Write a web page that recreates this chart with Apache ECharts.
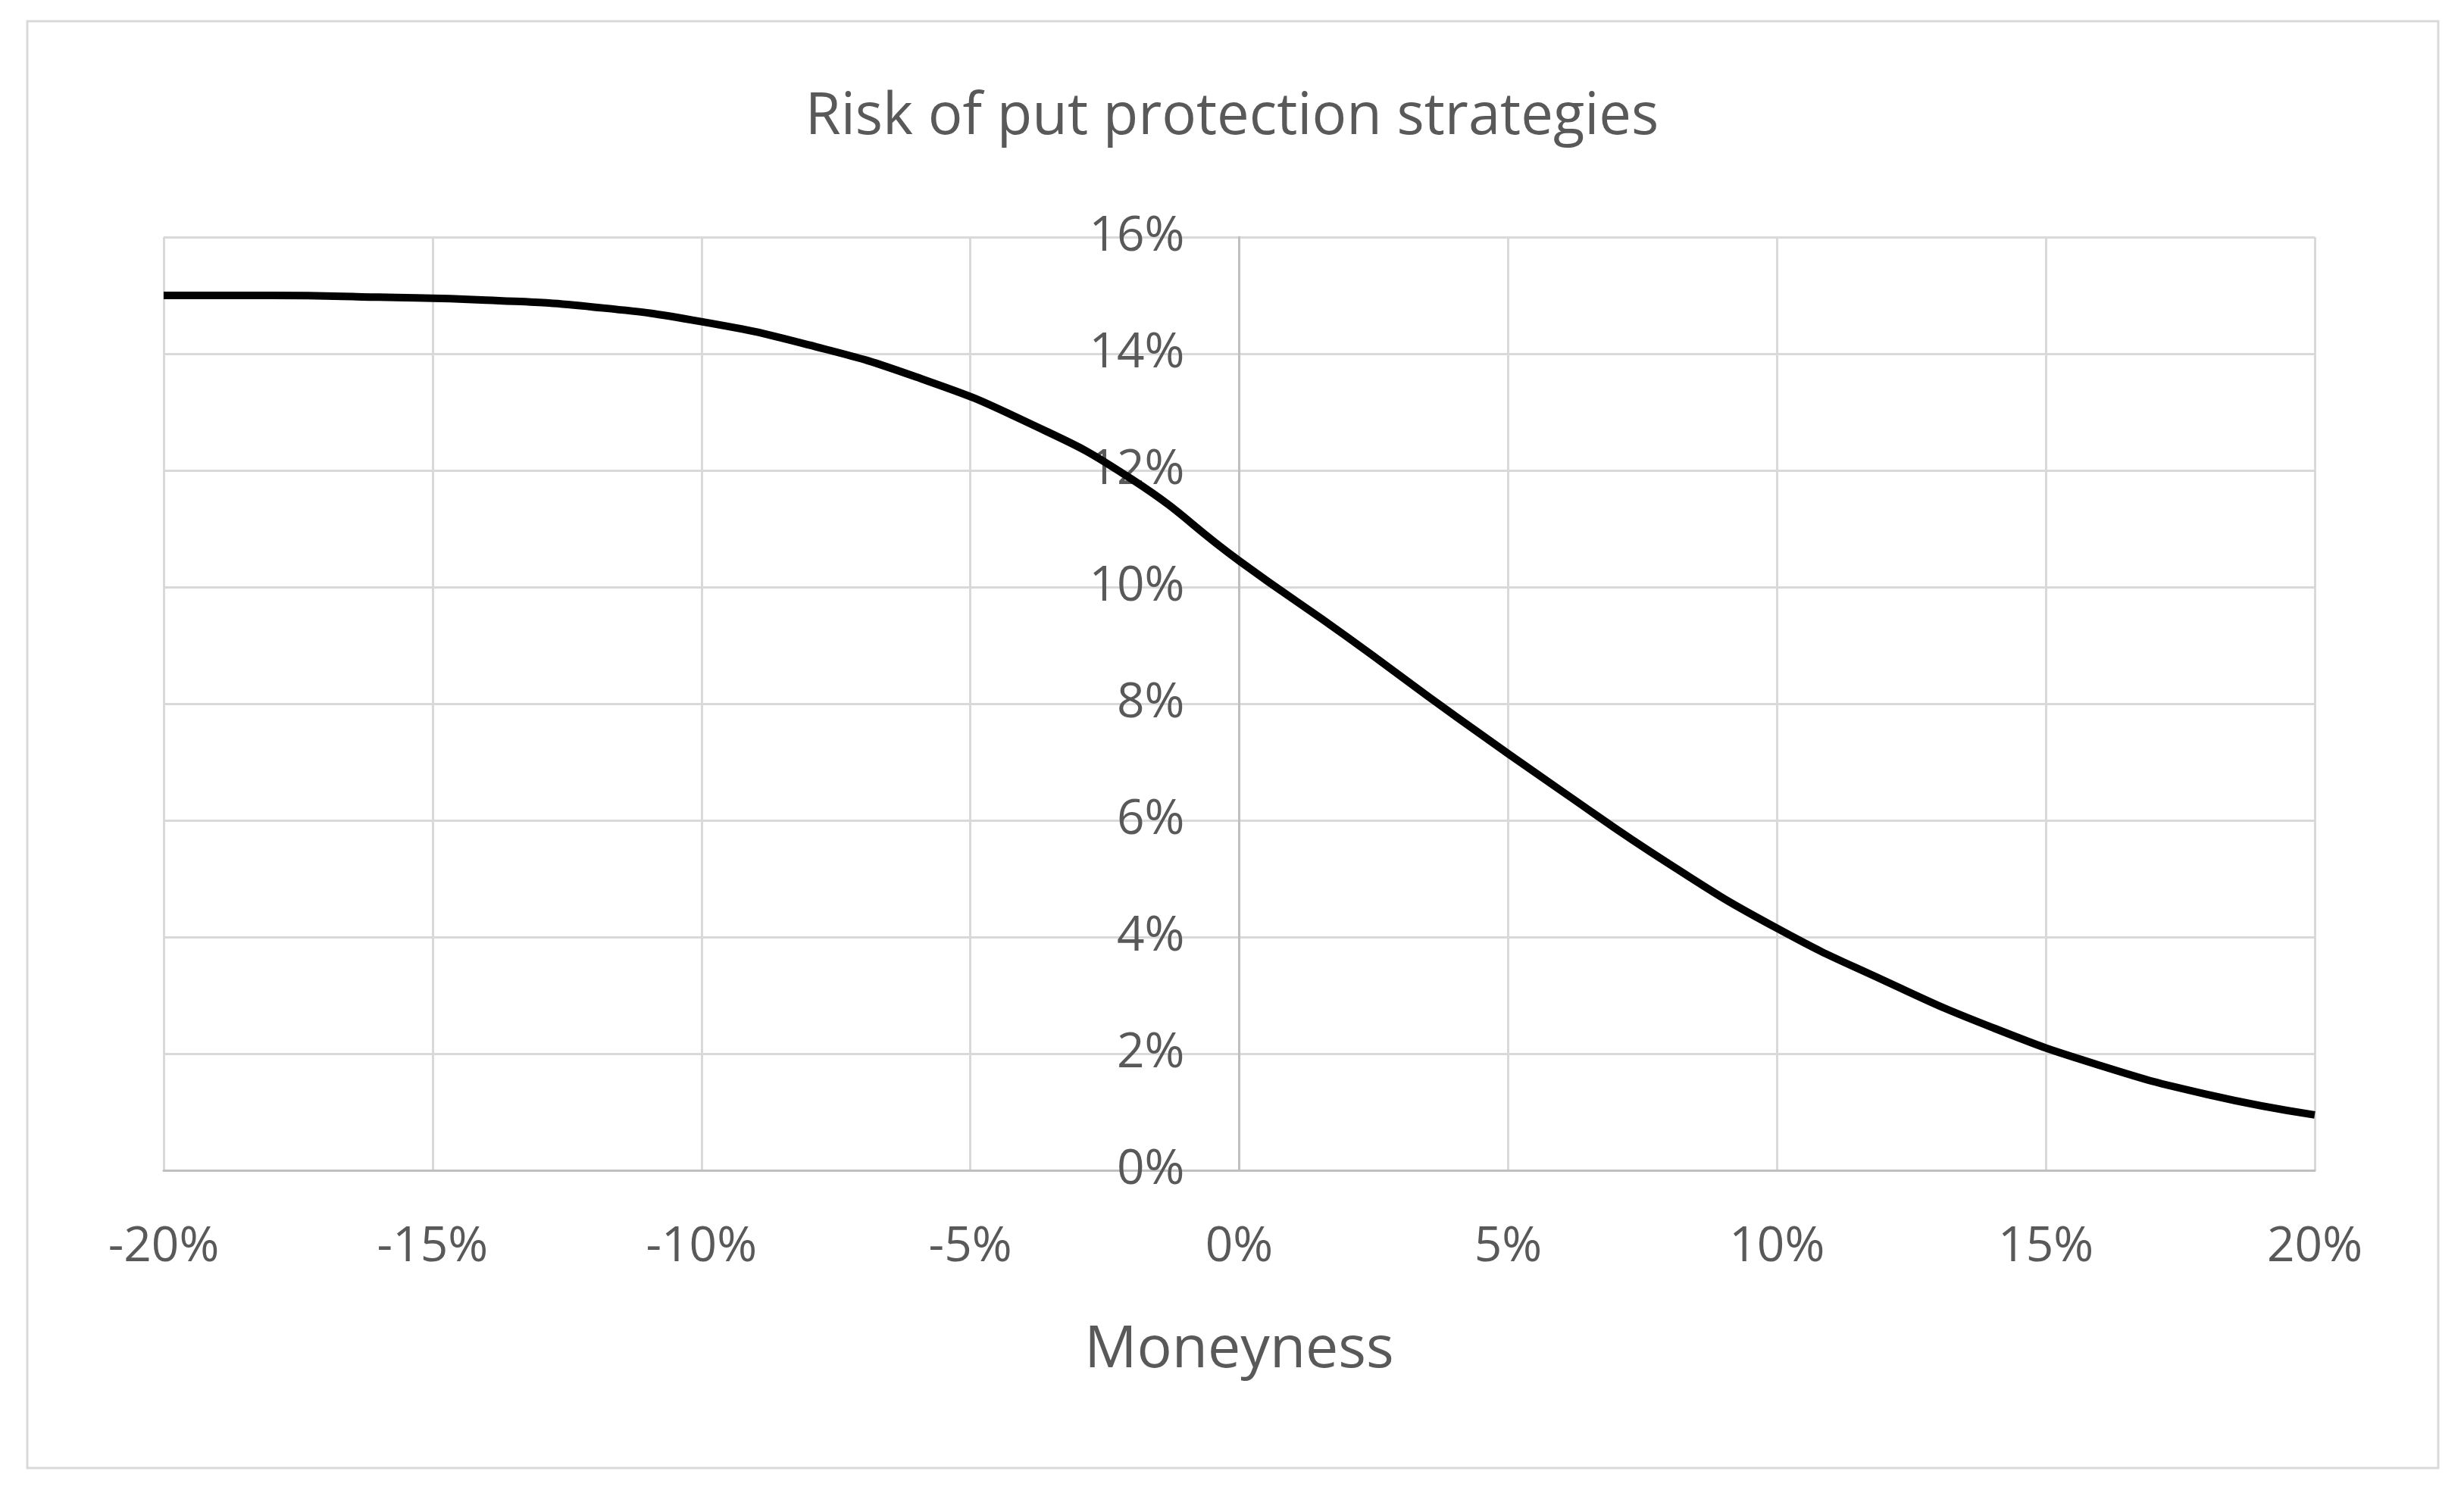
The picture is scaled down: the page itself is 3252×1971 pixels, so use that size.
<!DOCTYPE html>
<html>
<head>
<meta charset="utf-8">
<script src="https://cdn.jsdelivr.net/npm/echarts@6/dist/echarts.min.js"></script>
<style>
html,body{margin:0;padding:0;background:#fff;}
#main{width:3252px;height:1971px;}
</style>
</head>
<body>
<div id="main"></div>
<script>
// moneyness (%) and risk (%)
var moneyness = [-20, -18, -16, -14, -12, -10, -8, -6, -4, -2, 0, 2, 4, 6, 8, 10, 12, 14, 16, 18, 20];
var risk = [15.0, 15.0, 14.97, 14.92, 14.8, 14.55, 14.15, 13.6, 12.85, 11.85, 10.45, 9.15, 7.8, 6.5, 5.25, 4.15, 3.25, 2.45, 1.8, 1.3, 0.95];

var pts = [];
for (var i = 0; i < moneyness.length; i++) {
	pts.push([moneyness[i], risk[i]]);
}

var font = '"Open Sans", "Liberation Sans", sans-serif';
var myChart = echarts.init(document.getElementById('main'));
var option = {
	backgroundColor: '#fff',
	graphic: [{
		type: 'rect',
		shape: { x: 36, y: 28, width: 3182, height: 1910 },
		style: { fill: 'none', stroke: '#d9d9d9', lineWidth: 3 }
	}],
	title: {
		text: 'Risk of put protection strategies',
		left: 'center',
		top: 112,
		textStyle: { fontFamily: font, fontSize: 76, fontWeight: 'normal', color: '#595959' }
	},
	grid: { left: 216, right: 197, top: 313, bottom: 426, containLabel: false },
	xAxis: {
		type: 'value',
		min: -20, max: 20, interval: 5,
		name: 'Moneyness',
		nameLocation: 'middle',
		nameGap: 200,
		nameTextStyle: { fontFamily: font, fontSize: 77, color: '#595959' },
		axisLine: { onZero: false, lineStyle: { color: '#bfbfbf', width: 3 } },
		axisTick: { show: false },
		axisLabel: { fontFamily: font, fontSize: 64, color: '#595959', margin: 70, formatter: '{value}%' },
		splitLine: { show: true, lineStyle: { color: '#d9d9d9', width: 3 } }
	},
	yAxis: {
		type: 'value',
		min: 0, max: 16, interval: 2,
		offset: -1419.5,
		axisLine: { show: true, onZero: false, lineStyle: { color: '#bfbfbf', width: 3 } },
		axisTick: { show: false },
		axisLabel: { fontFamily: font, fontSize: 64, color: '#595959', margin: 72, formatter: '{value}%' },
		splitLine: { show: true, lineStyle: { color: '#d9d9d9', width: 3 } }
	},
	series: [{
		type: 'line',
		data: pts,
		smooth: true,
		symbol: 'none',
		z: 5,
		lineStyle: { color: '#000', width: 10 }
	}]
};
myChart.setOption(option);
</script>
</body>
</html>
